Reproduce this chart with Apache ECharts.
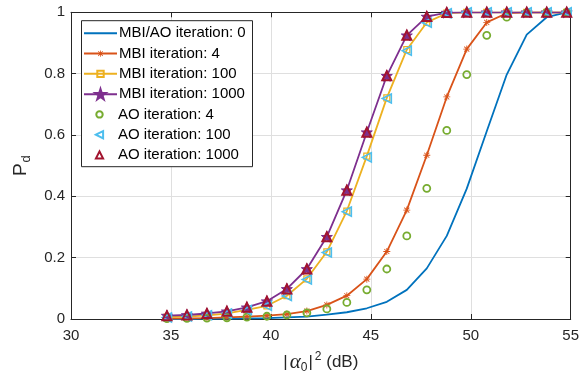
<!DOCTYPE html>
<html><head><meta charset="utf-8">
<script src="https://cdn.jsdelivr.net/npm/echarts@6/dist/echarts.min.js"></script>
<style>html,body{margin:0;padding:0;background:#fff}#c{width:585px;height:379px}</style>
</head><body><div id="c"></div>
<script>
// ---- data ----
const xValues = [34.8,35.8,36.8,37.8,38.8,39.8,40.8,41.8,42.8,43.8,44.8,45.8,46.8,47.8,48.8,49.8,50.8,51.8,52.8,53.8,54.8];
const xTicks = [30,35,40,45,50,55];
const yTicks = [0,0.2,0.4,0.6,0.8,1];
const seriesNames = ['MBI/AO iteration: 0','MBI iteration: 4','MBI iteration: 100','MBI iteration: 1000','AO iteration: 4','AO iteration: 100','AO iteration: 1000'];
const mbiAo0  = [0.000,0.000,0.001,0.001,0.002,0.003,0.005,0.008,0.014,0.022,0.035,0.056,0.095,0.165,0.271,0.425,0.612,0.797,0.927,0.984,1.000];
const mbi4    = [0.001,0.002,0.003,0.005,0.008,0.011,0.016,0.026,0.046,0.076,0.130,0.220,0.355,0.534,0.724,0.880,0.967,0.997,1.000,1.000,1.000];
const mbi100  = [0.006,0.008,0.012,0.018,0.030,0.043,0.076,0.131,0.219,0.352,0.531,0.721,0.878,0.967,0.997,1.000,1.000,1.000,1.000,1.000,1.000];
const mbi1000 = [0.011,0.013,0.018,0.025,0.038,0.058,0.098,0.163,0.268,0.420,0.609,0.793,0.925,0.986,0.999,1.000,1.000,1.000,1.000,1.000,1.000];
const ao4     = [0.001,0.002,0.003,0.004,0.006,0.009,0.013,0.020,0.033,0.054,0.095,0.163,0.271,0.426,0.615,0.797,0.925,0.984,0.998,1.000,1.000];
const ao100   = [0.005,0.008,0.012,0.018,0.029,0.043,0.075,0.129,0.217,0.350,0.527,0.719,0.875,0.966,0.997,1.000,1.000,1.000,1.000,1.000,1.000];
const ao1000  = [0.011,0.013,0.018,0.025,0.038,0.058,0.098,0.163,0.268,0.420,0.609,0.793,0.925,0.986,0.999,1.000,1.000,1.000,1.000,1.000,1.000];

const seriesValues = [mbiAo0, mbi4, mbi100, mbi1000, ao4, ao100, ao1000];
const colors = ['#0072BD','#D95319','#EDB120','#7E2F8E','#77AC30','#4DBEEE','#A2142F'];
const STAR = 'path://M50,0L61.2,34.5L97.6,34.5L68.2,55.9L79.4,90.5L50,69.1L20.6,90.5L31.8,55.9L2.4,34.5L38.8,34.5Z';
const ASTER = 'path://M0,4.4L10,4.4L10,5.6L0,5.6ZM4.4,0L5.6,0L5.6,10L4.4,10ZM1.85,1L9,8.15L8.15,9L1,1.85ZM8.15,1L9,1.85L1.85,9L1,8.15Z';
const LTRI = 'path://M0,5L10,0L10,10Z';
const styles = [
  {symbol:'none', size:0, line:true, fill:'transparent', bw:0, lh:0.5},
  {symbol:ASTER, size:7, line:true, fill:null, bw:0, lh:8},
  {symbol:'rect', size:6, line:true, fill:'transparent', bw:1.2, lh:8},
  {symbol:STAR, size:11, line:true, fill:null, bw:1, lh:13},
  {symbol:'circle', size:7, line:false, fill:'transparent', bw:1.8, lh:8},
  {symbol:LTRI, size:9, line:false, fill:'transparent', bw:1.6, lh:9},
  {symbol:'triangle', size:9, line:false, fill:'transparent', bw:2, lh:9}
];

const series = seriesNames.map((name, i) => {
  const st = styles[i];
  return {
    name, type:'line',
    data: xValues.map((x, k) => [x, seriesValues[i][k]]),
    symbol: st.symbol, symbolSize: st.size, showSymbol: st.symbol !== 'none',
    lineStyle: {color: colors[i], width: st.line ? 1.8 : 0, opacity: st.line ? 1 : 0},
    itemStyle: {color: st.fill === null ? colors[i] : st.fill, borderColor: colors[i], borderWidth: st.bw},
    emphasis: {disabled:true},
    animation:false, z: 2 + i
  };
});

const rowTop = 20.7, rowStart = 33.3, rowStep = 20.28;
const legends = seriesNames.map((name, i) => ({
  data:[name], orient:'vertical', left: 83, top: rowStart + i*rowStep - 7.5,
  padding:0, itemWidth:33, itemHeight: styles[i].lh, itemGap:0,
  selectedMode:false,
  textStyle:{fontSize:15, lineHeight:15, color:'#000', fontFamily:'Liberation Sans', padding:[0,0,0,-3]},
  z:5
}));

const chart = echarts.init(document.getElementById('c'), null, {renderer:'canvas'});
const axisCol = '#262626';
chart.setOption({
  animation:false,
  backgroundColor:'#fff',
  grid:{left:71, right:14.3, top:12.3, bottom:59, containLabel:false},
  xAxis:[{
    type:'value', min:xTicks[0], max:xTicks[xTicks.length-1], interval:5,
    axisLine:{show:true, onZero:false, lineStyle:{color:axisCol, width:1}},
    axisTick:{show:true, inside:true, length:5, lineStyle:{color:axisCol}},
    axisLabel:{fontSize:15, color:axisCol, margin:9, fontFamily:'Liberation Sans'},
    splitLine:{show:true, lineStyle:{color:'#dfdfdf', width:1}},
    name:'{n||}{g|α}{s|0}{n||}{p|2}{n| (dB)}', nameLocation:'middle', nameGap:31,
    nameTextStyle:{color:axisCol, fontSize:17, fontFamily:'Liberation Sans', rich:{
      n:{fontSize:17, fontFamily:'Liberation Sans', color:axisCol},
      g:{fontSize:21, fontFamily:'Liberation Serif', fontStyle:'italic', color:axisCol, padding:[0,0,0,2]},
      s:{fontSize:12, fontFamily:'Liberation Sans', color:axisCol, padding:[12,1,0,0]},
      p:{fontSize:12, fontFamily:'Liberation Sans', color:axisCol, padding:[0,0,11,2]}
    }}
  },{
    type:'value', position:'top', min:xTicks[0], max:xTicks[xTicks.length-1], interval:5,
    axisLine:{show:true, onZero:false, lineStyle:{color:axisCol, width:1}},
    axisTick:{show:true, inside:true, length:5, lineStyle:{color:axisCol}},
    axisLabel:{show:false}, splitLine:{show:false}
  }],
  yAxis:[{
    type:'value', min:yTicks[0], max:yTicks[yTicks.length-1], interval:0.2,
    axisLine:{show:true, onZero:false, lineStyle:{color:axisCol, width:1}},
    axisTick:{show:true, inside:true, length:5, lineStyle:{color:axisCol}},
    axisLabel:{fontSize:15, color:axisCol, margin:6, fontFamily:'Liberation Sans'},
    splitLine:{show:true, lineStyle:{color:'#dfdfdf', width:1}},
    name:'{n|P}{s|d}', nameLocation:'middle', nameGap:37, nameRotate:90,
    nameTextStyle:{color:axisCol, rich:{
      n:{fontSize:19, fontFamily:'Liberation Sans', color:axisCol},
      s:{fontSize:13, fontFamily:'Liberation Sans', color:axisCol, padding:[11,0,0,1]}
    }}
  },{
    type:'value', position:'right', min:yTicks[0], max:yTicks[yTicks.length-1], interval:0.2,
    axisLine:{show:true, onZero:false, lineStyle:{color:axisCol, width:1}},
    axisTick:{show:true, inside:true, length:5, lineStyle:{color:axisCol}},
    axisLabel:{show:false}, splitLine:{show:false}
  }],
  legend: legends,
  graphic:[{type:'rect', z:3, shape:{x:81.5, y:rowTop, width:171, height:146}, style:{fill:'#fff', stroke:axisCol, lineWidth:1}}],
  series
});
</script></body></html>
